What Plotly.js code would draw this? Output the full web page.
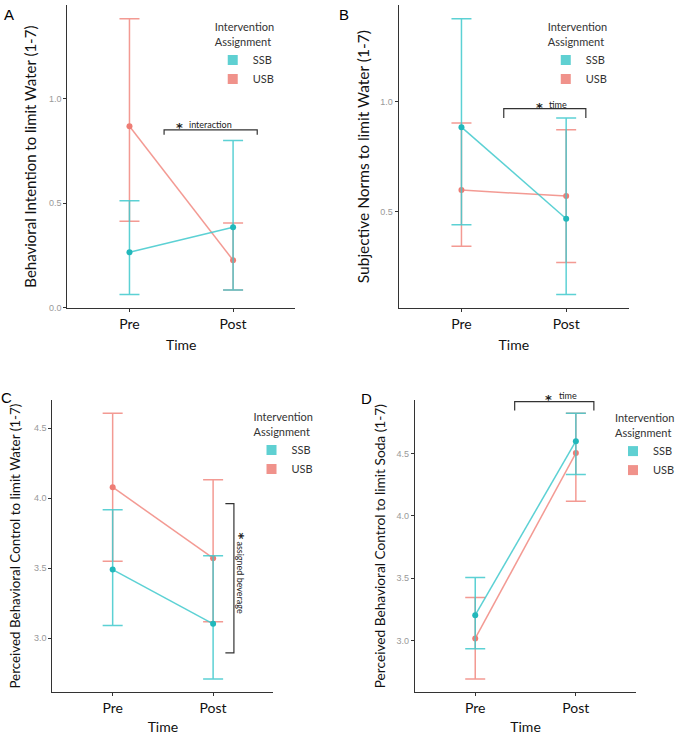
<!DOCTYPE html>
<html>
<head>
<meta charset="utf-8">
<script src="https://cdn.plot.ly/plotly-3.0.1.min.js"></script>
<style>html,body{margin:0;padding:0;background:#fff;}#chart{width:680px;height:735px;}</style>
</head>
<body>
<div id="chart"></div>
<script>
// ---- data ----
const timeCats = ['Pre', 'Post'];
const groupNames = ['SSB', 'USB'];

// Panel A: Behavioral Intention to limit Water
const A_SSB_mean = [0.265, 0.385];
const A_SSB_hi   = [0.512, 0.800];
const A_SSB_lo   = [0.063, 0.084];
const A_USB_mean = [0.868, 0.227];
const A_USB_hi   = [1.382, 0.405];
const A_USB_lo   = [0.413, 0.084];

// Panel B: Subjective Norms to limit Water
const B_SSB_mean = [0.884, 0.468];
const B_SSB_hi   = [1.376, 0.925];
const B_SSB_lo   = [0.441, 0.124];
const B_USB_mean = [0.598, 0.571];
const B_USB_hi   = [0.903, 0.872];
const B_USB_lo   = [0.343, 0.269];

// Panel C: Perceived Behavioral Control to limit Water
const C_SSB_mean = [3.490, 3.103];
const C_SSB_hi   = [3.916, 3.589];
const C_SSB_lo   = [3.091, 2.709];
const C_USB_mean = [4.078, 3.571];
const C_USB_hi   = [4.605, 4.130];
const C_USB_lo   = [3.550, 3.117];

// Panel D: Perceived Behavioral Control to limit Soda
const D_SSB_mean = [3.203, 4.601];
const D_SSB_hi   = [3.505, 4.825];
const D_SSB_lo   = [2.933, 4.333];
const D_USB_mean = [3.016, 4.505];
const D_USB_hi   = [3.345, 4.825];
const D_USB_lo   = [2.690, 4.119];

const yTitles = [
  'Behavioral Intention to limit Water (1-7)',
  'Subjective Norms to limit Water (1-7)',
  'Perceived Behavioral Control to limit Water (1-7)',
  'Perceived Behavioral Control to limit Soda (1-7)'
];
const panelLetters = ['A', 'B', 'C', 'D'];
const legendTitle = 'Intervention<br>Assignment';
const xTitle = 'Time';
const sigWords = ['interaction', 'time', 'assigned beverage', 'time'];

// ---- styling ----
const FONT = 'Lato, "Open Sans", sans-serif';
const STARFONT = '"DejaVu Sans", sans-serif';
const colLine = {SSB: 'rgba(64,201,204,0.85)', USB: 'rgba(241,136,128,0.85)'};
const colMark = {SSB: '#22b8bb', USB: '#ee7d75'};
const colKey  = {SSB: '#5fd0d2', USB: '#f0928b'};

const panels = [
  {ssb: [A_SSB_mean, A_SSB_hi, A_SSB_lo], usb: [A_USB_mean, A_USB_hi, A_USB_lo]},
  {ssb: [B_SSB_mean, B_SSB_hi, B_SSB_lo], usb: [B_USB_mean, B_USB_hi, B_USB_lo]},
  {ssb: [C_SSB_mean, C_SSB_hi, C_SSB_lo], usb: [C_USB_mean, C_USB_hi, C_USB_lo]},
  {ssb: [D_SSB_mean, D_SSB_hi, D_SSB_lo], usb: [D_USB_mean, D_USB_hi, D_USB_lo]}
];

const W = 680, H = 735;
const px = v => v / W;
const py = v => 1 - v / H;
// subplot boxes in pixels: [left, right, top, bottom]
const boxes = [
  [67.7, 297, 5, 308.3],
  [401, 632.7, 5, 308.3],
  [52.7, 275, 400, 692.3],
  [417.3, 640, 400, 692.3]
];
const yTitleSize = [15, 15.5, 13.4, 13.7];
const yStandoff = [8, 6, 9.8, 7.5];
const xStandoff = [9, 9, 7, 7];
const legendPos = [[214, 17], [549, 17], [253, 407], [617, 408]];

const traces = [];
const layout = {
  width: W, height: H,
  margin: {l: 0, r: 0, t: 0, b: 0},
  paper_bgcolor: '#fff', plot_bgcolor: '#fff',
  font: {family: FONT, size: 12, color: '#111'},
  showlegend: true,
  annotations: [], shapes: []
};

panels.forEach((p, i) => {
  const n = i + 1;
  const xa = 'x' + (i ? n : ''), ya = 'y' + (i ? n : '');
  const lg = 'legend' + (i ? n : '');
  // y range = extent of the error bars expanded by 5% (ggplot default)
  const allLo = p.ssb[2].concat(p.usb[2]);
  const allHi = p.ssb[1].concat(p.usb[1]);
  const mn = Math.min(...allLo), mx = Math.max(...allHi);
  const pad = (mx - mn) * 0.05;

  ['usb', 'ssb'].forEach(k => {
    const g = k.toUpperCase();
    const [m, hi, lo] = p[k];
    traces.push({
      type: 'scatter', mode: 'lines+markers',
      x: timeCats, y: m, xaxis: xa, yaxis: ya, name: g, showlegend: false,
      line: {color: colLine[g], width: 1.5},
      marker: {color: colMark[g], size: 6},
      error_y: {type: 'data', symmetric: false,
        array: hi.map((h, j) => h - m[j]),
        arrayminus: lo.map((l, j) => m[j] - l),
        color: colLine[g], thickness: 1.5, width: 10},
      cliponaxis: false, hoverinfo: 'x+y+name'
    });
  });
  groupNames.forEach(g => {
    traces.push({
      type: 'scatter', mode: 'markers', x: [null], y: [null], xaxis: xa, yaxis: ya,
      name: g, legend: lg, showlegend: true,
      marker: {symbol: 'square', color: colKey[g], size: 10}
    });
  });

  const b = boxes[i];
  layout['xaxis' + (i ? n : '')] = {
    domain: [px(b[0]), px(b[1])], anchor: ya, type: 'category',
    range: [-0.6, 1.6], showline: true, linecolor: '#333', linewidth: 1,
    ticks: 'outside', ticklen: 3, tickcolor: '#333', showgrid: false, zeroline: false,
    tickfont: {family: FONT, size: 14, color: '#111'},
    title: {text: xTitle, font: {family: FONT, size: 14, color: '#111'}, standoff: xStandoff[i]}
  };
  layout['yaxis' + (i ? n : '')] = {
    domain: [py(b[3]), py(b[2])], anchor: xa,
    range: [mn - pad, mx + pad], showline: true, linecolor: '#333', linewidth: 1,
    ticks: 'outside', ticklen: 3, tickcolor: '#333', showgrid: false, zeroline: false,
    dtick: 0.5, tickformat: '.1f',
    tickfont: {family: 'Liberation Sans, Arial, sans-serif', size: 9, color: '#999'},
    title: {text: yTitles[i], font: {family: FONT, size: yTitleSize[i], color: '#111'}, standoff: yStandoff[i]}
  };
  layout[lg] = {
    x: px(legendPos[i][0]), y: py(legendPos[i][1]), xanchor: 'left', yanchor: 'top',
    bgcolor: 'rgba(0,0,0,0)', font: {family: FONT, size: 11, color: '#333'},
    title: {text: legendTitle, font: {family: FONT, size: 11, color: '#333'}},
    tracegroupgap: 0
  };
});

// panel letters
const letterPos = [[3, 14], [340.5, 14], [0.5, 397], [362, 398]];
panelLetters.forEach((t, i) => {
  layout.annotations.push({
    xref: 'paper', yref: 'paper', x: px(letterPos[i][0]), y: py(letterPos[i][1]),
    text: t, showarrow: false, xanchor: 'left', yanchor: 'middle', borderpad: 0,
    font: {family: 'Liberation Sans, Arial, sans-serif', size: 15, color: '#000'}
  });
});

// significance brackets (in data coordinates of each subplot)
const bracketLine = {color: '#333', width: 1.2};
function hBracket(xa, ya, x0, x1, yTop, yFoot) {
  layout.shapes.push({type: 'path', xref: xa, yref: ya,
    path: `M ${x0},${yFoot} L ${x0},${yTop} L ${x1},${yTop} L ${x1},${yFoot}`,
    line: bracketLine});
}
hBracket('x', 'y', 0.334, 1.233, 0.851, 0.827);
hBracket('x2', 'y2', 0.404, 1.188, 0.968, 0.925);
hBracket('x4', 'y4', 0.392, 1.179, 4.919, 4.847);
layout.shapes.push({type: 'path', xref: 'x3', yref: 'y3',
  path: 'M 1.122,3.960 L 1.207,3.960 L 1.207,2.896 L 1.122,2.896', line: bracketLine});

// significance labels: star + word (pixel positions on the page)
function star(x, y, ang) {
  layout.annotations.push({xref: 'paper', yref: 'paper', x: px(x), y: py(y),
    showarrow: false, xanchor: 'center', yanchor: 'middle', textangle: ang || 0,
    text: '<b>*</b>', font: {family: STARFONT, size: 13, color: '#222'}});
}
function word(x, y, t, anchor, ang) {
  layout.annotations.push({xref: 'paper', yref: 'paper', x: px(x), y: py(y),
    showarrow: false, xanchor: anchor, yanchor: 'middle', textangle: ang || 0,
    text: t, font: {family: FONT, size: 9, color: '#222'}});
}
star(180.8, 127.5); word(188.5, 124.5, sigWords[0], 'left');
star(542.5, 107.5); word(550.5, 104, sigWords[1], 'left');
star(552.2, 399.2); word(560.5, 395.7, sigWords[3], 'left');
star(240.5, 535.5, 90); word(241.5, 577.5, sigWords[2], 'center', 90);

Plotly.newPlot('chart', traces, layout, {displayModeBar: false});
</script>
</body>
</html>
